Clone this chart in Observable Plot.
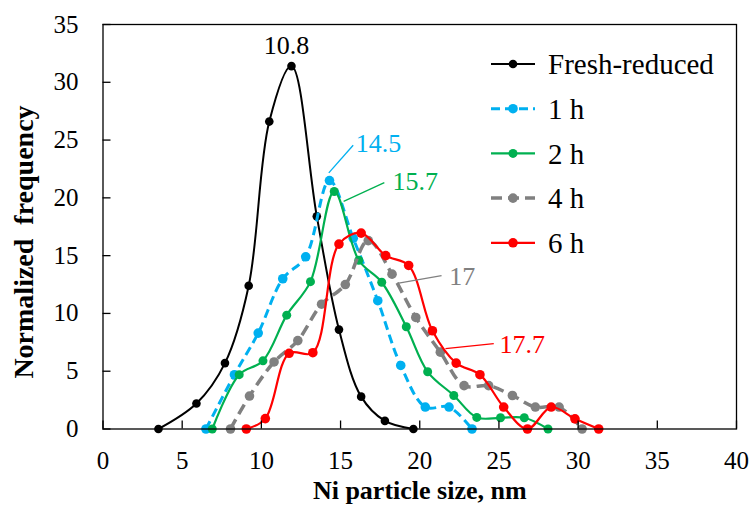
<!DOCTYPE html>
<html><head><meta charset="utf-8">
<script src="https://cdn.jsdelivr.net/npm/d3@7"></script>
<script src="https://cdn.jsdelivr.net/npm/@observablehq/plot@0.6"></script>
<style>
body{margin:0;background:#fff}
#wrap{position:relative;width:752px;height:511px}
#legend{position:absolute;left:0;top:0}
</style>
</head><body><div id="wrap"></div>
<script>
// ---- data ----
const seriesNames = ["Fresh-reduced", "1 h", "2 h", "4 h", "6 h"];
const freshX = [3.5, 5.9, 7.7, 9.2, 10.5, 11.9, 13.5, 14.9, 16.3, 17.8, 19.6];
const freshY = [0, 2.2, 5.7, 12.4, 26.6, 31.4, 18.4, 8.6, 2.8, 0.7, 0];
const h1X = [6.5, 8.3, 9.8, 11.35, 12.8, 14.3, 15.8, 17.35, 18.8, 20.35, 21.85, 23.3];
const h1Y = [0, 4.7, 8.3, 13.0, 14.9, 21.5, 16.5, 11.1, 5.5, 1.9, 1.9, 0];
const h2X = [6.9, 8.6, 10.1, 11.6, 13.1, 14.6, 16.15, 17.6, 19.15, 20.5, 22.15, 23.6, 25.1, 26.6, 28.1];
const h2Y = [0, 4.7, 5.9, 9.85, 12.75, 20.55, 14.6, 12.7, 8.85, 4.95, 2.9, 1.0, 0.97, 0.97, 0];
const h4X = [8.05, 9.25, 10.8, 12.3, 13.8, 15.3, 16.75, 18.25, 19.75, 21.3, 22.8, 24.35, 25.85, 27.3, 28.8, 30.25];
const h4Y = [0, 2.85, 5.8, 7.65, 10.8, 12.5, 16.3, 13.4, 9.65, 6.65, 3.75, 3.75, 2.9, 1.9, 1.9, 0];
const h6X = [9.05, 10.25, 11.75, 13.25, 14.9, 16.3, 17.85, 19.3, 20.8, 22.3, 23.8, 25.3, 26.8, 28.3, 29.8, 31.3];
const h6Y = [0, 0.9, 6.55, 6.6, 16.0, 16.95, 15.0, 14.15, 8.5, 5.7, 4.7, 1.9, 0, 1.9, 0.88, 0];
const peakLabels = ["10.8", "14.5", "15.7", "17", "17.7"];
const xTicks = [0, 5, 10, 15, 20, 25, 30, 35, 40];
const yTicks = [0, 5, 10, 15, 20, 25, 30, 35];
const xTitle = "Ni particle size, nm";
const yTitle = "Normalized\u00a0\u00a0frequency";

// ---- styles ----
const W = 752, H = 511;
const M = {left: 102.5, right: 16, top: 24, bottom: 82.5};
const FONT = "Liberation Serif, DejaVu Serif, serif";
const styles = [
  {color: "#000000", width: 2, dash: null, r: 4.3},
  {color: "#00b0f0", width: 3, dash: "9,5", r: 4.8},
  {color: "#00b050", width: 2.2, dash: null, r: 4.5},
  {color: "#808080", width: 3.5, dash: "11,6", r: 4.8},
  {color: "#ff0000", width: 2.2, dash: null, r: 4.8}
];
// label layout: pixel offsets from each series' peak point
const labelLayout = [
  {tdx: -5, tdy: -20, leader: null},
  {tdx: 49, tdy: -37, leader: [-0.7, -7.6, 23.7, -35.3]},
  {tdx: 81, tdy: -9.5, leader: [9.4, 9.9, 50.1, -8.8]},
  {tdx: 94, tdy: 36.5, leader: [29, 42.7, 73.3, 35]},
  {tdx: 161, tdy: 111.6, leader: [84.3, 115.6, 132.6, 110.6]}
];

const xs = [freshX, h1X, h2X, h4X, h6X];
const ys = [freshY, h1Y, h2Y, h4Y, h6Y];
const series = seriesNames.map((name, i) => xs[i].map((x, j) => ({name, x, y: ys[i][j]})));

const xDomain = [xTicks[0], xTicks[xTicks.length - 1]];
const yDomain = [yTicks[0], yTicks[yTicks.length - 1]];
const kx = (W - M.left - M.right) / (xDomain[1] - xDomain[0]);
const ky = (H - M.top - M.bottom) / (yDomain[1] - yDomain[0]);

const marks = [];
series.forEach((rows, i) => {
  const s = styles[i];
  marks.push(Plot.line(rows, {x: "x", y: "y", curve: "catmull-rom", stroke: s.color, strokeWidth: s.width,
    strokeDasharray: s.dash ?? undefined, strokeLinecap: "butt"}));
  marks.push(Plot.dot(rows, {x: "x", y: "y", r: s.r, fill: s.color, stroke: "none"}));
});
series.forEach((rows, i) => {
  const peak = rows.reduce((a, b) => (b.y > a.y ? b : a));
  const L = labelLayout[i];
  const s = styles[i];
  marks.push(Plot.text([peak], {x: "x", y: "y", text: () => peakLabels[i], dx: L.tdx, dy: L.tdy,
    fill: s.color, fontSize: 26, fontFamily: FONT}));
  if (L.leader) {
    const [a, b, c, d] = L.leader;
    marks.push(Plot.link([peak], {x1: p => p.x + a / kx, y1: p => p.y - b / ky,
      x2: p => p.x + c / kx, y2: p => p.y - d / ky, stroke: s.color, strokeWidth: 1.3}));
  }
});

const chart = Plot.plot({
  width: W, height: H,
  marginLeft: M.left, marginRight: M.right, marginTop: M.top, marginBottom: M.bottom,
  style: {fontFamily: FONT, background: "#fff", color: "#000"},
  x: {domain: xDomain, label: null},
  y: {domain: yDomain, label: null},
  marks: [
    ...marks,
    Plot.frame({stroke: "#000", strokeWidth: 1.3}),
    Plot.axisX(xTicks, {tickSize: -8, tickPadding: 30, fontSize: 25, fontFamily: FONT, label: null, stroke: "#000", strokeWidth: 1.3}),
    Plot.axisY(yTicks, {tickSize: -8, tickPadding: 32.5, fontSize: 25, fontFamily: FONT, label: null, stroke: "#000", strokeWidth: 1.3}),
    Plot.text([xTitle], {frameAnchor: "bottom", dy: 70, fontSize: 26, fontWeight: "bold", fontFamily: FONT})
  ]
});
const wrap = document.getElementById("wrap");
wrap.appendChild(chart);

// ---- overlay: y title and legend ----
const lg = d3.select(wrap).append("svg").attr("id", "legend").attr("width", W).attr("height", H);
lg.append("text").attr("transform", "translate(23,242) rotate(-90)").attr("text-anchor", "middle")
  .attr("dy", "0.35em").attr("font-size", 28).attr("font-weight", "bold").attr("font-family", FONT)
  .attr("fill", "#000").text(yTitle);
seriesNames.forEach((name, i) => {
  const s = styles[i];
  const cy = 64 + i * 44.7;
  const g = lg.append("g").attr("transform", `translate(491,${cy})`);
  g.append("line").attr("x1", 0).attr("x2", 44).attr("y1", 0).attr("y2", 0)
    .attr("stroke", s.color).attr("stroke-width", s.width).attr("stroke-dasharray", s.dash);
  g.append("circle").attr("cx", 22).attr("cy", 0).attr("r", s.r).attr("fill", s.color);
  g.append("text").attr("x", 57).attr("y", 0).attr("dy", "0.35em").attr("font-size", 29)
    .attr("font-family", FONT).attr("fill", "#000").text(name);
});
</script>
</body></html>
